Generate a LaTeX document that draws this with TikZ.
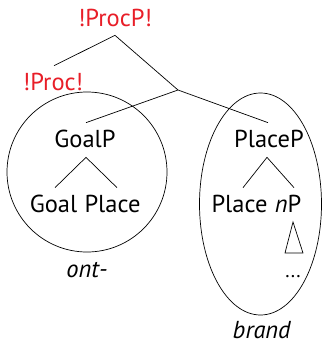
\documentclass[tikz,border=0pt]{standalone}
\usepackage{fontspec}
\setmainfont{PT Sans}
\definecolor{procred}{RGB}{232,30,40}
\begin{document}
\begin{tikzpicture}[x=1pt,y=-1pt,line width=0.7pt,
  lbl/.style={inner sep=0pt,anchor=base,font=\fontsize{24.5}{28}\selectfont,text height=15pt,text depth=0pt},
  redlbl/.style={lbl,text=procred}]
\useasboundingbox (0,0) rectangle (322,346);
% labels
\node[redlbl] (ProcP) at (115,26) {!ProcP!};
\node[redlbl] (Proc) at (53,90) {!Proc!};
\coordinate (mid) at (178,90);
\node[lbl] (GoalP) at (85,147) {GoalP};
\node[lbl] (PlaceP) at (269,147) {PlaceP};
\node[lbl] (Goal) at (53.5,212) {Goal};
\node[lbl] (Place1) at (112.5,212) {Place};
\node[lbl] (Place2) at (239.5,212) {Place};
\node[lbl] (nP) at (288,212) {\textit{n}P};
\node[lbl,font=\fontsize{20}{24}\selectfont] (dots) at (293,277) {...};
\node[lbl] (ont) at (87,277) {\textit{ont-}};
\node[lbl] (brand) at (262,338.5) {\textit{brand}};
% branches
\draw ([xshift=1pt,yshift=9pt]Proc.north) -- ([yshift=-9pt]ProcP.south) -- (mid);
\draw ([xshift=1pt,yshift=9pt]GoalP.north) -- (mid) -- ([xshift=-1pt,yshift=9pt]PlaceP.north);
\draw ([xshift=1.5pt,yshift=9pt]Goal.north) -- ([xshift=1pt,yshift=-10pt]GoalP.south) -- ([xshift=4.5pt,yshift=9pt]Place1.north);
\draw ([xshift=3.5pt,yshift=9pt]Place2.north) -- ([xshift=-2pt,yshift=-10pt]PlaceP.south) -- ([xshift=6pt,yshift=9pt]nP.north);
% triangle
\draw (293,222) -- (285,253) -- (303,253) -- cycle;
% circle and ellipse
\draw (87,172) circle (80);
\draw (260.5,204) ellipse [x radius=61, y radius=111];
\end{tikzpicture}
\end{document}
